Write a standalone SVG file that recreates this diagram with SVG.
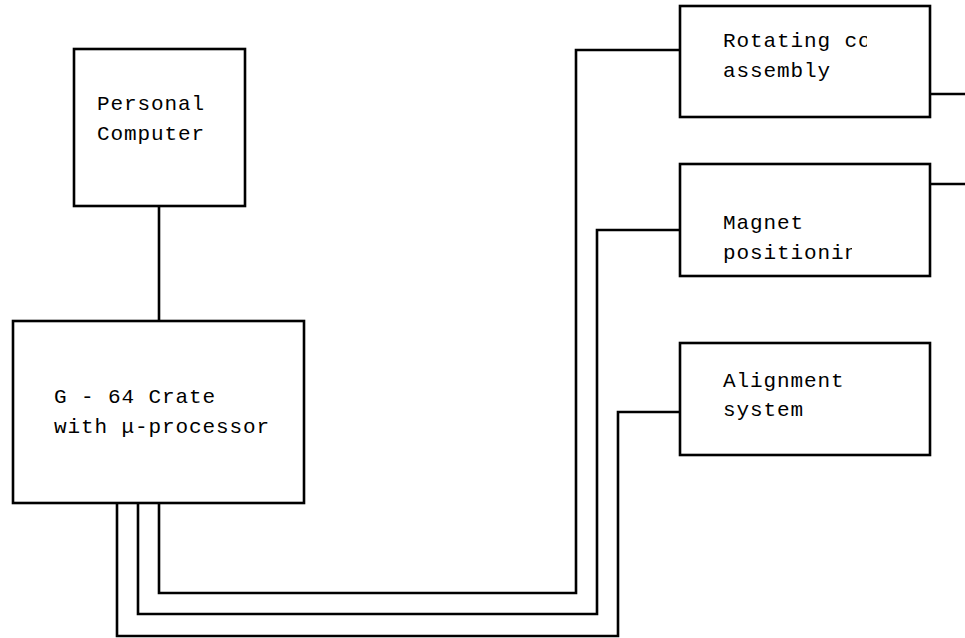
<svg xmlns="http://www.w3.org/2000/svg" width="965" height="638" viewBox="0 0 965 638">
<style>
.box{fill:#fff;stroke:#000;stroke-width:2.6}
.ln{fill:none;stroke:#000;stroke-width:2.6}
.t{font-family:"Liberation Mono","Courier New",monospace;font-size:21px;letter-spacing:0.9px;fill:#000}
</style>
<defs>
<clipPath id="c1"><rect x="680" y="6" width="187" height="112"/></clipPath>
<clipPath id="c2"><rect x="680" y="164" width="172" height="112"/></clipPath>
</defs>
<rect width="965" height="638" fill="#fff"/>
<g id="connectors">
<path class="ln" d="M159,206 V321"/>
<path class="ln" d="M159,503 V593 H576 V50 H680"/>
<path class="ln" d="M138,503 V614 H597 V230 H680"/>
<path class="ln" d="M117,503 V636 H618 V412 H680"/>
<path class="ln" d="M930,94 H965"/>
<path class="ln" d="M930,184 H965"/>
</g>
<g id="pc">
<rect class="box" x="74" y="49" width="171" height="157"/>
<text class="t" x="97" y="110">Personal</text>
<text class="t" x="97" y="140">Computer</text>
</g>
<g id="crate">
<rect class="box" x="13" y="321" width="291" height="182"/>
<text class="t" x="54" y="403">G - 64 Crate</text>
<text class="t" x="54" y="433">with μ-processor</text>
</g>
<g id="rotating">
<rect class="box" x="680" y="6" width="250" height="111"/>
<g clip-path="url(#c1)">
<text class="t" x="723" y="47">Rotating coil</text>
<text class="t" x="723" y="77">assembly</text>
</g>
</g>
<g id="magnet">
<rect class="box" x="680" y="164" width="250" height="112"/>
<g clip-path="url(#c2)">
<text class="t" x="723" y="229">Magnet</text>
<text class="t" x="723" y="259">positioning</text>
</g>
</g>
<g id="alignment">
<rect class="box" x="680" y="343" width="250" height="112"/>
<text class="t" x="723" y="387">Alignment</text>
<text class="t" x="723" y="416">system</text>
</g>
</svg>
